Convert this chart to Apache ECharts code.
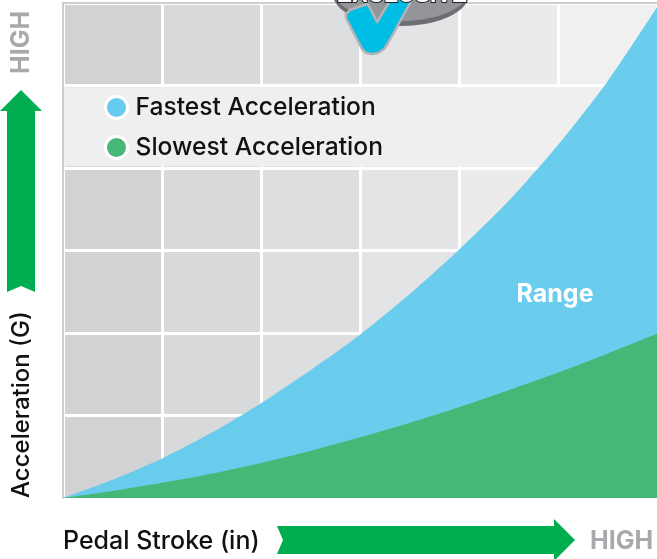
<!DOCTYPE html>
<html>
<head>
<meta charset="utf-8">
<style>
html, body { margin: 0; padding: 0; background: #fff; }
#chart { width: 657px; height: 559px; }
</style>
<script src="https://cdn.jsdelivr.net/npm/echarts@6/dist/echarts.min.js"></script>
</head>
<body>
<div id="chart"></div>
<script>
// values, axes have no units so grid cells = 1
const stroke = [0, 0.5, 1, 1.5, 2, 2.5, 3, 3.5, 4, 4.5, 5, 5.5, 6]
const fastest = [0, 0.22, 0.48, 0.79, 1.15, 1.55, 1.98, 2.47, 3.01, 3.6, 4.28, 5.05, 5.95]
const slowest = [0, 0.085, 0.185, 0.295, 0.425, 0.57, 0.735, 0.91, 1.1, 1.305, 1.52, 1.75, 1.99]
const columnColors = ['#d1d2d4', '#d8d9da', '#dddee0', '#e3e4e6', '#ebebeb', '#f0f0f0']

const font = 'Inter'
const textBlack = '#111'
const arrowGreen = '#00ae50'
const highGrey = '#a7a9ac'

function pairs (ys) {
  return stroke.map((x, i) => [x, ys[i]])
}

const chart = echarts.init(document.getElementById('chart'))

chart.setOption({
  animation: false,
  grid: { left: 63, right: 0, top: 3, bottom: 61 },
  legend: {
    data: ['Fastest Acceleration', 'Slowest Acceleration'],
    orient: 'vertical',
    left: 99,
    top: 90,
    itemGap: 15,
    itemWidth: 22,
    itemHeight: 22,
    icon: 'circle',
    itemStyle: { borderColor: '#fff', borderWidth: 3 },
    lineStyle: { width: 0 },
    textStyle: { fontFamily: font, fontSize: 24.6, fontWeight: 500, color: textBlack, padding: [0, 0, 0, 3] }
  },
  xAxis: {
    type: 'value',
    min: 0,
    max: 6,
    interval: 1,
    z: 0,
    axisLabel: { show: false },
    axisTick: { show: false },
    axisLine: { show: true, onZero: false, lineStyle: { color: '#b5bcc0', width: 1.5 } },
    splitLine: { show: true, lineStyle: { color: '#fff', width: 3 } },
    splitArea: { show: true, areaStyle: { color: columnColors, opacity: 1 } }
  },
  yAxis: {
    type: 'value',
    min: 0,
    max: 6,
    interval: 1,
    z: 1,
    axisLabel: { show: false },
    axisTick: { show: false },
    axisLine: { show: true, onZero: false, lineStyle: { color: '#bcbec0', width: 1.5 } },
    splitLine: { show: true, lineStyle: { color: '#fff', width: 3 } }
  },
  series: [
    {
      // legend band + top border, sits under the curves
      name: 'band',
      type: 'line',
      z: 2,
      data: [],
      silent: true,
      markArea: {
        silent: true,
        itemStyle: { color: '#efefef' },
        data: [[{ yAxis: 4.02 }, { yAxis: 4.98 }]]
      },
      markLine: {
        silent: true,
        symbol: 'none',
        label: { show: false },
        lineStyle: { color: '#bcbec0', width: 1.5, type: 'solid' },
        data: [{ yAxis: 6 }]
      }
    },
    {
      name: 'Fastest Acceleration',
      type: 'line',
      z: 3,
      smooth: 0.25,
      symbol: 'none',
      data: pairs(fastest),
      itemStyle: { color: '#66cbec' },
      lineStyle: { width: 0 },
      areaStyle: { color: '#66cbec', opacity: 0.97 },
      markPoint: {
        silent: true,
        symbolSize: 0,
        data: [{ coord: [4.97, 2.47], value: 'Range' }],
        label: {
          show: true,
          position: 'inside',
          formatter: 'Range',
          color: '#fff',
          fontFamily: font,
          fontSize: 25,
          fontWeight: 700
        }
      }
    },
    {
      name: 'Slowest Acceleration',
      type: 'line',
      z: 4,
      smooth: 0.25,
      symbol: 'none',
      data: pairs(slowest),
      itemStyle: { color: '#46b776' },
      lineStyle: { width: 0 },
      areaStyle: { color: '#46b776', opacity: 1 }
    }
  ],
  graphic: [
    // badge at the top, cropped by the page edge
    { type: 'ellipse', z: 10, shape: { cx: 401, cy: -6, rx: 68, ry: 32 }, style: { fill: '#6d6e71' } },
    { type: 'ellipse', z: 11, shape: { cx: 401, cy: -9, rx: 67, ry: 30 }, style: { fill: '#939598' } },
    {
      type: 'polygon',
      z: 12,
      shape: {
        points: [[346, 14], [350, 10], [367, 4], [369, 6], [377, 22], [393, -4], [414, -4],
          [388, 43], [384, 49], [378, 53], [372, 54], [366, 53], [362, 49], [359, 43], [346, 18]]
      },
      style: { fill: '#00bde6', stroke: '#b1b3b6', lineWidth: 2.5, lineJoin: 'round' }
    },
    {
      type: 'text',
      z: 13,
      x: 402,
      y: -4,
      style: {
        text: 'EXCLUSIVE',
        fontFamily: 'Liberation Sans',
        fontSize: 23,
        fontWeight: 700,
        fill: '#fff',
        stroke: '#222',
        lineWidth: 2,
        align: 'center',
        verticalAlign: 'middle'
      }
    },
    // up arrow
    {
      type: 'polygon',
      z: 10,
      shape: { points: [[21, 90], [42, 111], [35, 111], [35, 292], [21, 286], [7, 292], [7, 111], [0, 111]] },
      style: { fill: arrowGreen }
    },
    // right arrow
    {
      type: 'polygon',
      z: 10,
      shape: { points: [[277, 526], [554, 526], [554, 519], [575, 540], [554, 561], [554, 554], [277, 554], [283, 540]] },
      style: { fill: arrowGreen }
    },
    {
      type: 'text', z: 10, x: 21, y: 74, rotation: Math.PI / 2,
      style: { text: 'HIGH', fontFamily: font, fontSize: 25, fontWeight: 700, fill: highGrey, align: 'left', verticalAlign: 'middle' }
    },
    {
      type: 'text', z: 10, x: 22, y: 498, rotation: Math.PI / 2,
      style: { text: 'Acceleration (G)', fontFamily: font, fontSize: 24, fontWeight: 500, fill: textBlack, align: 'left', verticalAlign: 'middle' }
    },
    {
      type: 'text', z: 10, x: 63, y: 541,
      style: { text: 'Pedal Stroke (in)', fontFamily: font, fontSize: 25, fontWeight: 500, fill: textBlack, align: 'left', verticalAlign: 'middle' }
    },
    {
      type: 'text', z: 10, x: 590, y: 541,
      style: { text: 'HIGH', fontFamily: font, fontSize: 25, fontWeight: 700, fill: highGrey, align: 'left', verticalAlign: 'middle' }
    }
  ]
})
</script>
</body>
</html>
